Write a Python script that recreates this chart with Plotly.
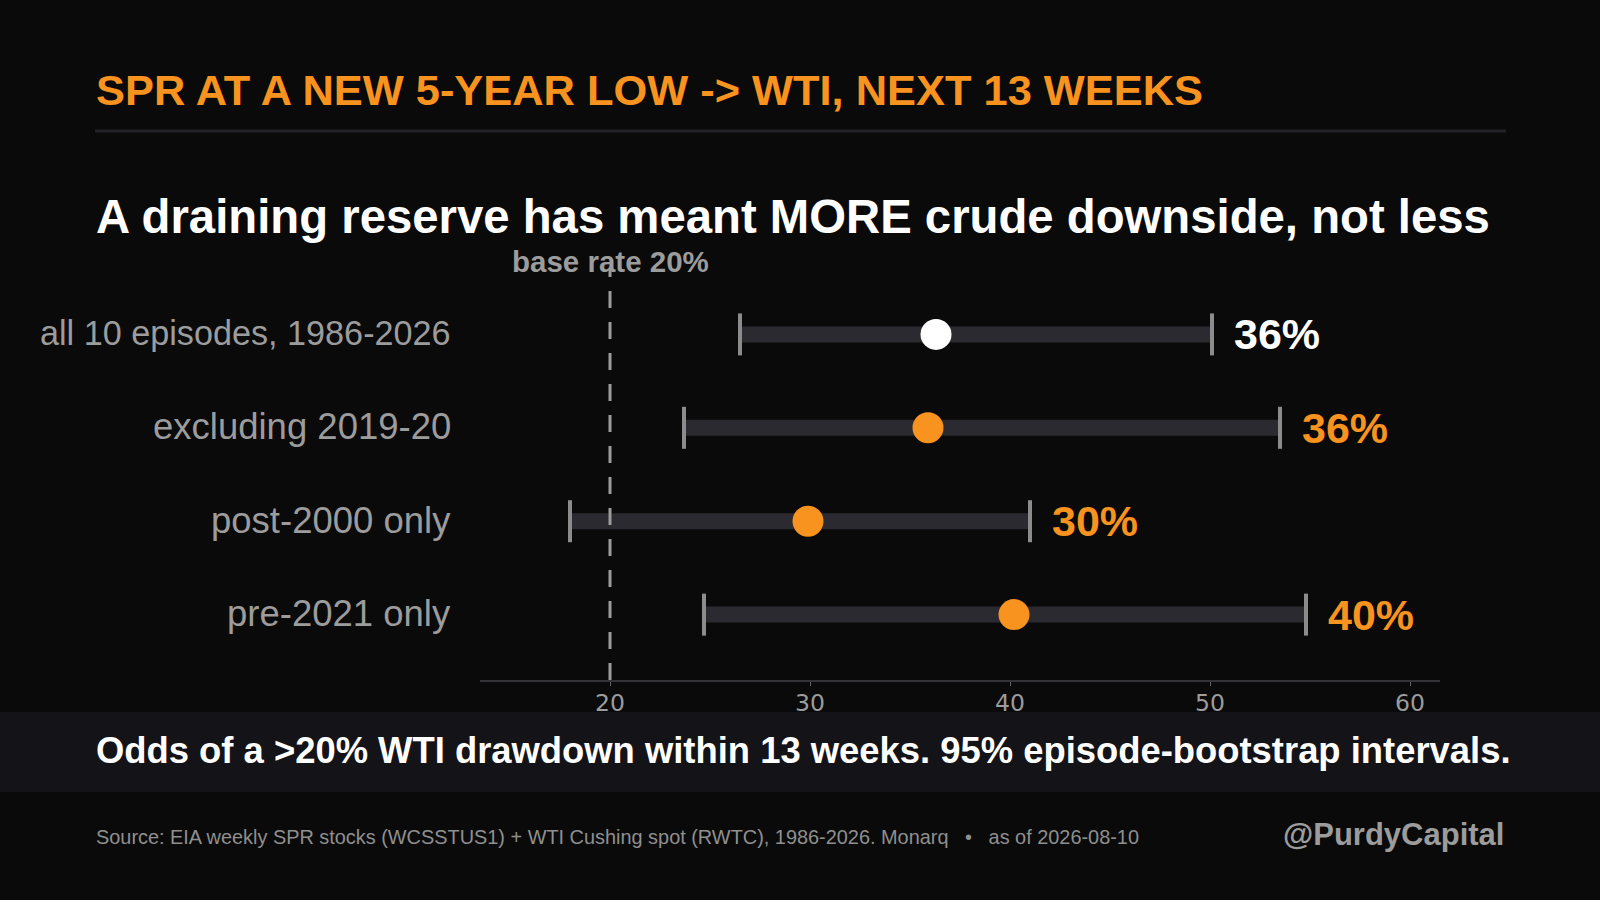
import plotly.graph_objects as go

# data (percent odds, 95% bootstrap bounds)
groups = ["all 10 episodes, 1986-2026", "excluding 2019-20", "post-2000 only", "pre-2021 only"]
point = [36.3, 35.9, 29.9, 40.2]
low = [26.5, 23.7, 18.0, 24.7]
high = [50.1, 53.5, 41.0, 54.8]
labels = ["36%", "36%", "30%", "40%"]
base_rate = 20
x_ticks = [20, 30, 40, 50, 60]

ORANGE = "#f7931e"
BG = "#0a0a0a"
GREY = "#9c9c9c"
FONT = "Liberation Sans, Arial, sans-serif"

W, H = 1600, 900
L, R, T, B = 480, 160, 269, 220


def px_x(p):
    return (p - L) / (W - L - R)


def px_y(p):
    return (H - B - p) / (H - T - B)


rows = list(range(len(groups)))[::-1]  # first group at top

fig = go.Figure()

# interval bars
for i, y in enumerate(rows):
    fig.add_trace(go.Scatter(
        x=[low[i], high[i]], y=[y, y], mode="lines",
        line=dict(color="#2a2a30", width=16),
        hoverinfo="skip", showlegend=False,
    ))

# end caps (line-ns is drawn 1.4x the marker size)
fig.add_trace(go.Scatter(
    x=low + high, y=rows + rows, mode="markers",
    marker=dict(symbol="line-ns", size=30, line=dict(color="#8c8c8c", width=4)),
    hoverinfo="skip", showlegend=False,
))

# point estimates
dot_colors = ["#ffffff"] + [ORANGE] * (len(groups) - 1)
fig.add_trace(go.Scatter(
    x=point, y=rows, mode="markers",
    marker=dict(size=31, color=dot_colors, line=dict(width=0)),
    showlegend=False,
))

# base rate line
fig.add_shape(type="line", x0=base_rate, x1=base_rate, xref="x", y0=0, y1=1, yref="paper",
              line=dict(color=GREY, width=3, dash="17px,14px"))

ann = []
for i, y in enumerate(rows):
    # row label (the long first one is set a bit smaller)
    ann.append(dict(x=px_x(453), y=y, xref="paper", yref="y", text=groups[i],
                    xanchor="right", yanchor="middle", yshift=1, showarrow=False,
                    font=dict(size=34.2 if i == 0 else 36.5, color=GREY, family=FONT)))
    ann.append(dict(x=high[i], y=y, xref="x", yref="y", text=f"<b>{labels[i]}</b>",
                    xanchor="left", yanchor="middle", xshift=20, showarrow=False,
                    font=dict(size=43, color=dot_colors[i], family=FONT)))

ann += [
    dict(x=base_rate, y=1, xref="x", yref="paper", text="<b>base rate 20%</b>",
         xanchor="center", yanchor="middle", yshift=8, showarrow=False,
         font=dict(size=29.5, color=GREY, family=FONT)),
    dict(x=px_x(94), y=px_y(90), xref="paper", yref="paper",
         text="<b>SPR AT A NEW 5-YEAR LOW -> WTI, NEXT 13 WEEKS</b>",
         xanchor="left", yanchor="middle", showarrow=False,
         font=dict(size=43.4, color=ORANGE, family=FONT)),
    dict(x=px_x(94), y=px_y(216), xref="paper", yref="paper",
         text="<b>A draining reserve has meant MORE crude downside, not less</b>",
         xanchor="left", yanchor="middle", showarrow=False,
         font=dict(size=47.3, color="#ffffff", family=FONT)),
    dict(x=px_x(94), y=px_y(750), xref="paper", yref="paper",
         text="<b>Odds of a >20% WTI drawdown within 13 weeks. 95% episode-bootstrap intervals.</b>",
         xanchor="left", yanchor="middle", showarrow=False,
         font=dict(size=36.4, color="#ffffff", family=FONT)),
    dict(x=px_x(94), y=px_y(837), xref="paper", yref="paper",
         text="Source: EIA weekly SPR stocks (WCSSTUS1) + WTI Cushing spot (RWTC), 1986-2026. Monarq"
              "   \u2022   as of 2026-08-10",
         xanchor="left", yanchor="middle", showarrow=False,
         font=dict(size=19.9, color="#8f8f8f", family=FONT)),
    dict(x=px_x(1506), y=px_y(834), xref="paper", yref="paper", text="<b>@PurdyCapital</b>",
         xanchor="right", yanchor="middle", showarrow=False,
         font=dict(size=31, color=GREY, family=FONT)),
]

shapes = [
    dict(type="line", xref="paper", yref="paper", x0=px_x(95), x1=px_x(1506),
         y0=px_y(131), y1=px_y(131), line=dict(color="#222226", width=3)),
    dict(type="rect", xref="paper", yref="paper", x0=px_x(0), x1=px_x(W),
         y0=px_y(712), y1=px_y(792), fillcolor="#141418", line=dict(width=0), layer="below"),
]
for s in shapes:
    fig.add_shape(**s)

fig.update_layout(
    width=W, height=H,
    paper_bgcolor=BG, plot_bgcolor=BG,
    margin=dict(l=L, r=R, t=T, b=B, autoexpand=False),
    font=dict(family=FONT, color=GREY),
    annotations=ann,
    showlegend=False,
    xaxis=dict(
        range=[13.5, 61.5], tickvals=x_ticks, showgrid=False, zeroline=False,
        showline=True, linecolor="#333338", linewidth=2,
        ticks="outside", ticklen=4, tickcolor="#666", tickwidth=1,
        ticklabelstandoff=-3,
        tickfont=dict(size=23.5, color=GREY, family="DejaVu Sans"), fixedrange=True,
    ),
    yaxis=dict(
        range=[-0.7, 3.7], showgrid=False, zeroline=False, showline=False,
        showticklabels=False, ticks="", fixedrange=True,
    ),
)

# drop the page's default body margin so the figure fills the window
fig.write_html("out.html", config={"displayModeBar": False},
               post_script="document.body.style.margin='0';")
